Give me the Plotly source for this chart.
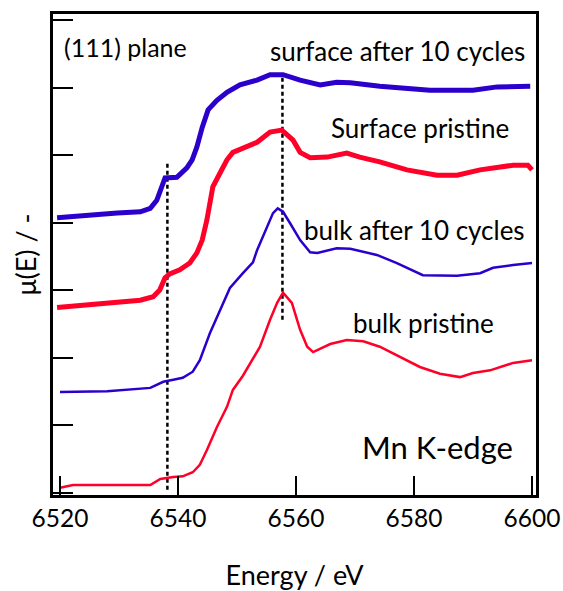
import plotly.graph_objects as go

# Surface after 10 cycles (thick blue)
surf10_E = [6519.5, 6524.6, 6529.7, 6533.6, 6535.3, 6536.4, 6537.3, 6537.8, 6539.8, 6541.5,
            6542.4, 6543.2, 6544.1, 6545.1, 6546.6, 6548.3, 6550.5, 6553.4, 6555.6, 6557.8,
            6560.7, 6564.1, 6566.9, 6569.2, 6574.2, 6578.8, 6582.7, 6590.0, 6594.1, 6599.7]
surf10_mu = [4.07, 4.11, 4.14, 4.16, 4.21, 4.33, 4.58, 4.66, 4.67, 4.81,
             4.93, 5.12, 5.41, 5.67, 5.81, 5.93, 6.04, 6.11, 6.19, 6.19,
             6.11, 6.04, 6.08, 6.07, 6.02, 5.98, 5.96, 5.96, 6.01, 6.02]

# Surface pristine (thick red)
surfp_E = [6519.5, 6524.6, 6529.7, 6533.6, 6535.8, 6536.9, 6537.8, 6538.6, 6540.3, 6542.0,
           6543.2, 6544.1, 6544.9, 6545.9, 6547.1, 6548.3, 6549.3, 6551.7, 6553.4, 6555.6,
           6557.6, 6559.5, 6560.7, 6562.4, 6565.3, 6568.6, 6570.8, 6574.2, 6578.8, 6583.9,
           6587.3, 6591.2, 6596.8, 6599.3, 6600.0]
surfp_mu = [2.74, 2.78, 2.81, 2.85, 2.90, 3.00, 3.18, 3.24, 3.30, 3.40,
            3.55, 3.74, 4.04, 4.53, 4.73, 4.93, 5.04, 5.12, 5.19, 5.34,
            5.37, 5.22, 5.04, 4.96, 4.97, 5.03, 4.97, 4.90, 4.78, 4.70,
            4.70, 4.78, 4.85, 4.85, 4.78]

# Bulk after 10 cycles (thin blue)
bulk10_E = [6520.0, 6528.0, 6535.3, 6537.5, 6539.2, 6540.8, 6542.5, 6543.7, 6545.4, 6547.1,
            6548.8, 6551.0, 6552.7, 6553.4, 6555.1, 6556.1, 6556.9, 6557.8, 6559.0, 6560.7,
            6562.4, 6563.6, 6566.9, 6569.2, 6573.7, 6577.1, 6581.5, 6587.3, 6591.2, 6593.4,
            6596.8, 6600.0]
bulk10_mu = [1.49, 1.50, 1.55, 1.64, 1.67, 1.70, 1.79, 1.96, 2.36, 2.70,
             3.03, 3.25, 3.41, 3.59, 3.93, 4.14, 4.21, 4.16, 3.99, 3.74,
             3.56, 3.55, 3.62, 3.61, 3.52, 3.40, 3.22, 3.21, 3.25, 3.33,
             3.37, 3.40]

# Bulk pristine (thin red)
bulkp_E = [6520.0, 6521.7, 6522.2, 6535.3, 6537.0, 6539.2, 6540.8, 6542.5, 6543.7, 6544.9,
           6546.6, 6548.3, 6549.3, 6551.0, 6552.7, 6553.9, 6555.6, 6556.8, 6557.8, 6559.3,
           6560.7, 6561.9, 6562.9, 6565.8, 6568.6, 6571.4, 6574.2, 6577.6, 6581.0, 6584.4,
           6587.8, 6590.0, 6592.9, 6596.8, 6600.0]
bulkp_mu = [0.07, 0.10, 0.11, 0.11, 0.20, 0.23, 0.24, 0.30, 0.41, 0.63,
            0.97, 1.27, 1.52, 1.73, 1.98, 2.16, 2.56, 2.81, 2.96, 2.81,
            2.41, 2.16, 2.08, 2.20, 2.26, 2.24, 2.16, 2.01, 1.86, 1.76,
            1.71, 1.77, 1.81, 1.92, 1.96]

# Dotted guide lines
guide_E = [6538.2, 6557.7]
guide_lo = [0.04, 2.56]
guide_hi = [4.90, 6.19]

x_ticks = [6520, 6540, 6560, 6580, 6600]
y_ticks = [0, 1, 2, 3, 4, 5, 6, 7]

BLUE = "#2B00CC"
RED = "#FF0028"
FONT = "Lato"

fig = go.Figure()
for E, lo, hi in zip(guide_E, guide_lo, guide_hi):
    fig.add_trace(go.Scatter(x=[E, E], y=[lo, hi], mode="lines",
                             line=dict(color="black", width=2.5, dash="4px,3px"),
                             showlegend=False, hoverinfo="skip"))

fig.add_trace(go.Scatter(x=surf10_E, y=surf10_mu, mode="lines",
                         line=dict(color=BLUE, width=5), showlegend=False))
fig.add_trace(go.Scatter(x=surfp_E, y=surfp_mu, mode="lines",
                         line=dict(color=RED, width=5), showlegend=False))
fig.add_trace(go.Scatter(x=bulk10_E, y=bulk10_mu, mode="lines",
                         line=dict(color=BLUE, width=2.5), showlegend=False))
fig.add_trace(go.Scatter(x=bulkp_E, y=bulkp_mu, mode="lines",
                         line=dict(color=RED, width=2.5), showlegend=False))

annots = [
    dict(text="(111) plane", x=6520.3, y=6.60, xanchor="left", size=25),
    dict(text="surface after 10 cycles", x=6577.2, y=6.54, xanchor="center", size=26),
    dict(text="Surface pristine", x=6581.1, y=5.40, xanchor="center", size=26),
    dict(text="bulk after 10 cycles", x=6580.1, y=3.89, xanchor="center", size=26),
    dict(text="bulk pristine", x=6581.6, y=2.51, xanchor="center", size=26),
    dict(text="Mn K-edge", x=6584.0, y=0.67, xanchor="center", size=31),
]
for a in annots:
    fig.add_annotation(x=a["x"], y=a["y"], text=a["text"], showarrow=False,
                       xanchor=a["xanchor"], yanchor="middle",
                       font=dict(family=FONT, size=a["size"], color="black"))

fig.update_layout(
    width=563, height=591,
    margin=dict(l=53, r=27, t=14, b=96),
    paper_bgcolor="white", plot_bgcolor="white",
    font=dict(family=FONT, color="black"),
)
fig.update_xaxes(range=[6518.81, 6600.68], tickvals=x_ticks, automargin=False,
                 ticks="inside", ticklen=19, tickwidth=2, tickcolor="black",
                 showline=True, linewidth=3, linecolor="black", mirror=True,
                 showgrid=False, zeroline=False, ticklabelstandoff=0,
                 tickfont=dict(family=FONT, size=24.5),
                 title=dict(text="Energy / eV", font=dict(family=FONT, size=27), standoff=48))
fig.update_yaxes(range=[-0.037, 7.09], tickvals=y_ticks, showticklabels=False, automargin=False,
                 ticks="inside", ticklen=20, tickwidth=2, tickcolor="black",
                 showline=True, linewidth=3, linecolor="black", mirror=True,
                 showgrid=False, zeroline=False,
                 title=dict(text="μ(E) / -", font=dict(family=FONT, size=27), standoff=6))

fig.write_html("out.html", config={"displayModeBar": False},
               post_script="document.body.style.margin='0';document.body.style.overflow='hidden';")
